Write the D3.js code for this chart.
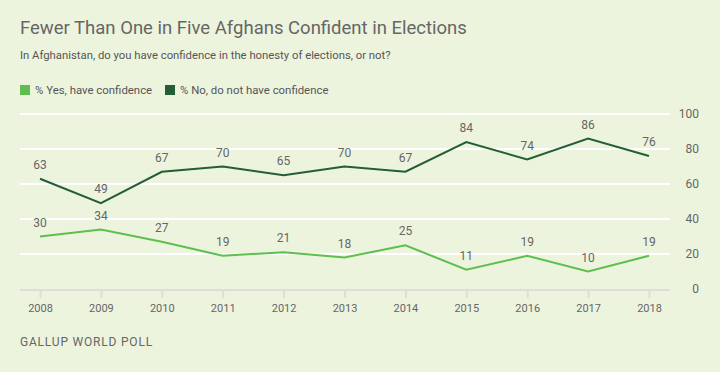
<!DOCTYPE html>
<html>
<head>
<meta charset="utf-8">
<script src="https://cdn.jsdelivr.net/npm/d3@7"></script>
<style>
body{margin:0;background:#edf4de;}
svg{display:block;font-family:Roboto,"Noto Sans",sans-serif;}
.grid line{stroke:#fff;stroke-width:2;}
.lbl{fill:#666;font-size:12px;}
</style>
</head>
<body>
<svg id="chart" width="720" height="372"></svg>
<script>
var years = [2008,2009,2010,2011,2012,2013,2014,2015,2016,2017,2018];
var yesData = [30,34,27,19,21,18,25,11,19,10,19];
var noData = [63,49,67,70,65,70,67,84,74,86,76];
var yTicks = [0,20,40,60,80,100];

var svg = d3.select("#chart");
var x = d3.scalePoint().domain(years).range([40,649]);
var y = d3.scaleLinear().domain([0,100]).range([289,114]);

// 제목
svg.append("text").attr("x",20).attr("y",34).attr("fill","#666")
  .style("font-size","18.5px").text("Fewer Than One in Five Afghans Confident in Elections");
svg.append("text").attr("x",20).attr("y",59).attr("fill","#555")
  .style("font-size","11.3px").text("In Afghanistan, do you have confidence in the honesty of elections, or not?");

// 범례
var legend = [{t:"% Yes, have confidence",c:"#5dbf4d",x:20},{t:"% No, do not have confidence",c:"#245e34",x:165}];
legend.forEach(function(d){
  svg.append("rect").attr("x",d.x).attr("y",85).attr("width",10).attr("height",10).attr("fill",d.c);
  svg.append("text").attr("x",d.x+15).attr("y",94).attr("fill","#555").style("font-size","11.4px").text(d.t);
});

// 격자선
svg.append("g").attr("class","grid").selectAll("line").data(yTicks.filter(function(d){return d>0;}))
  .enter().append("line")
  .attr("x1",20).attr("x2",670).attr("y1",function(d){return y(d);}).attr("y2",function(d){return y(d);});

// y축 라벨
svg.append("g").selectAll("text").data(yTicks).enter().append("text")
  .attr("class","lbl").attr("x",699).attr("y",function(d){return y(d)+4;})
  .attr("text-anchor","end").text(function(d){return d;});

// x축
svg.append("line").attr("x1",20).attr("x2",670).attr("y1",290).attr("y2",290)
  .attr("stroke","#ddd").attr("stroke-width",2);
var xAxis = d3.axisBottom(x).tickSize(8).tickPadding(6);
var gx = svg.append("g").attr("transform","translate(0,290)").call(xAxis);
gx.select(".domain").remove();
gx.selectAll(".tick line").attr("stroke","#ddd").attr("stroke-width",2);
gx.selectAll(".tick text").attr("fill","#666").style("font-size","11px").style("font-family","Roboto, sans-serif");

// 꺾은선
function drawSeries(data,color){
  var line = d3.line().x(function(d,i){return x(years[i]);}).y(function(d){return y(d);});
  svg.append("path").attr("d",line(data)).attr("fill","none").attr("stroke",color).attr("stroke-width",2);
  svg.append("g").selectAll("text").data(data).enter().append("text")
    .attr("class","lbl").attr("text-anchor","middle")
    .attr("x",function(d,i){return x(years[i]);})
    .attr("y",function(d){return y(d)-10;})
    .text(function(d){return d;});
}
drawSeries(noData,"#245e34");
drawSeries(yesData,"#5dbf4d");

svg.append("text").attr("x",20).attr("y",346).attr("fill","#666")
  .style("font-size","12px").style("letter-spacing","0.8px").text("GALLUP WORLD POLL");
</script>
</body>
</html>
